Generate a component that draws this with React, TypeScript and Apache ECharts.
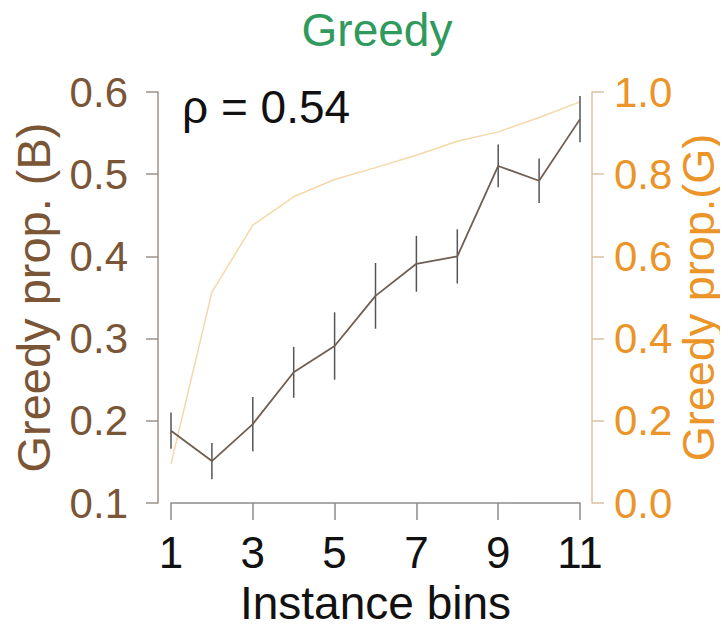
import React, { useEffect, useRef } from "react";
import * as echarts from "echarts";

// Instance bins on the x axis
const bins = [1, 2, 3, 4, 5, 6, 7, 8, 9, 10, 11];
// Greedy proportion (B), left axis, with its standard error
const greedyB = [0.188, 0.151, 0.196, 0.259, 0.291, 0.352, 0.391, 0.4, 0.51, 0.492, 0.567];
const greedyBErr = [0.022, 0.022, 0.033, 0.031, 0.041, 0.04, 0.034, 0.033, 0.026, 0.027, 0.028];
// Greedy proportion (G), right axis
const greedyG = [0.095, 0.513, 0.676, 0.745, 0.787, 0.816, 0.846, 0.88, 0.903, 0.938, 0.976];
// Tick values shown on the x axis
const xTicks = [1, 3, 5, 7, 9, 11];

const FONT = "'Liberation Sans', Arial, sans-serif";
const BROWN = "#7a5536";
const ORANGE = "#eb9428";

export default function App() {
  const ref = useRef<HTMLDivElement>(null);

  useEffect(() => {
    if (!ref.current) return;
    const chart = echarts.init(ref.current, null, { renderer: "svg" });

    const lineB = bins.map((b, i) => [b, greedyB[i]]);
    const lineG = bins.map((b, i) => [b, greedyG[i]]);
    const errData = bins.map((b, i) => [b, greedyB[i] - greedyBErr[i], greedyB[i] + greedyBErr[i]]);

    chart.setOption({
      animation: false,
      backgroundColor: "#ffffff",
      title: {
        text: "Greedy",
        left: 372,
        top: 2,
        textAlign: "center",
        textStyle: { color: "#2f9a5c", fontFamily: FONT, fontSize: 46, fontWeight: "normal" },
      },
      graphic: [
        {
          type: "text",
          left: 182,
          top: 84,
          style: { text: "ρ = 0.54", fill: "#111", font: `46px ${FONT}` },
        },
      ],
      grid: { left: 171, right: 148, top: 92, bottom: 127, outerBoundsMode: "none" },
      xAxis: {
        type: "value",
        min: 1,
        max: 11,
        interval: 2,
        name: "Instance bins",
        nameLocation: "middle",
        nameGap: 77,
        nameMoveOverlap: false,
        nameTextStyle: { color: "#111", fontFamily: FONT, fontSize: 46 },
        axisLine: { lineStyle: { color: "#8c8c8c", width: 1.5 } },
        axisTick: { length: 17, lineStyle: { color: "#8c8c8c", width: 1.5 } },
        axisLabel: {
          color: "#111",
          fontFamily: FONT,
          fontSize: 44,
          margin: 27,
          formatter: (v: number) => (xTicks.includes(v) ? String(v) : ""),
        },
        splitLine: { show: false },
      },
      yAxis: [
        {
          type: "value",
          position: "left",
          offset: 13,
          min: 0.1,
          max: 0.6,
          interval: 0.1,
          name: "Greedy prop. (B)",
          nameLocation: "middle",
          nameRotate: 90,
          nameGap: 101,
          nameMoveOverlap: false,
          nameTextStyle: { color: BROWN, fontFamily: FONT, fontSize: 47 },
          axisLine: { show: true, lineStyle: { color: "#9b918a", width: 1.5 } },
          axisTick: { show: true, length: 12, lineStyle: { color: "#9b918a", width: 1.5 } },
          axisLabel: {
            color: BROWN,
            fontFamily: FONT,
            fontSize: 42,
            margin: 30,
            formatter: (v: number) => v.toFixed(1),
          },
          splitLine: { show: false },
        },
        {
          type: "value",
          position: "right",
          offset: 12,
          min: 0,
          max: 1,
          interval: 0.2,
          name: "Greedy prop.(G)",
          nameLocation: "middle",
          nameRotate: 90,
          nameGap: 84,
          nameMoveOverlap: false,
          nameTextStyle: { color: ORANGE, fontFamily: FONT, fontSize: 45 },
          axisLine: { show: true, lineStyle: { color: "#dcc1a2", width: 1.5 } },
          axisTick: { show: true, length: 12, lineStyle: { color: "#dcc1a2", width: 1.5 } },
          axisLabel: {
            color: ORANGE,
            fontFamily: FONT,
            fontSize: 42,
            margin: 22,
            formatter: (v: number) => v.toFixed(1),
          },
          splitLine: { show: false },
        },
      ],
      series: [
        {
          type: "line",
          yAxisIndex: 1,
          data: lineG,
          symbol: "none",
          lineStyle: { color: "#f5d8a9", width: 1.5 },
          z: 1,
        },
        {
          type: "custom",
          yAxisIndex: 0,
          data: errData,
          z: 2,
          renderItem: (params: any, api: any) => {
            const x = api.value(0);
            const lo = api.coord([x, api.value(1)]);
            const hi = api.coord([x, api.value(2)]);
            return {
              type: "line",
              shape: { x1: lo[0], y1: lo[1], x2: hi[0], y2: hi[1] },
              style: { stroke: "#555555", lineWidth: 1.5 },
            };
          },
        },
        {
          type: "line",
          yAxisIndex: 0,
          data: lineB,
          symbol: "none",
          lineStyle: { color: "#6f5e51", width: 1.8 },
          z: 3,
        },
      ],
    });

    return () => chart.dispose();
  }, []);

  return <div ref={ref} style={{ width: 728, height: 630, margin: -8 }} />;
}
